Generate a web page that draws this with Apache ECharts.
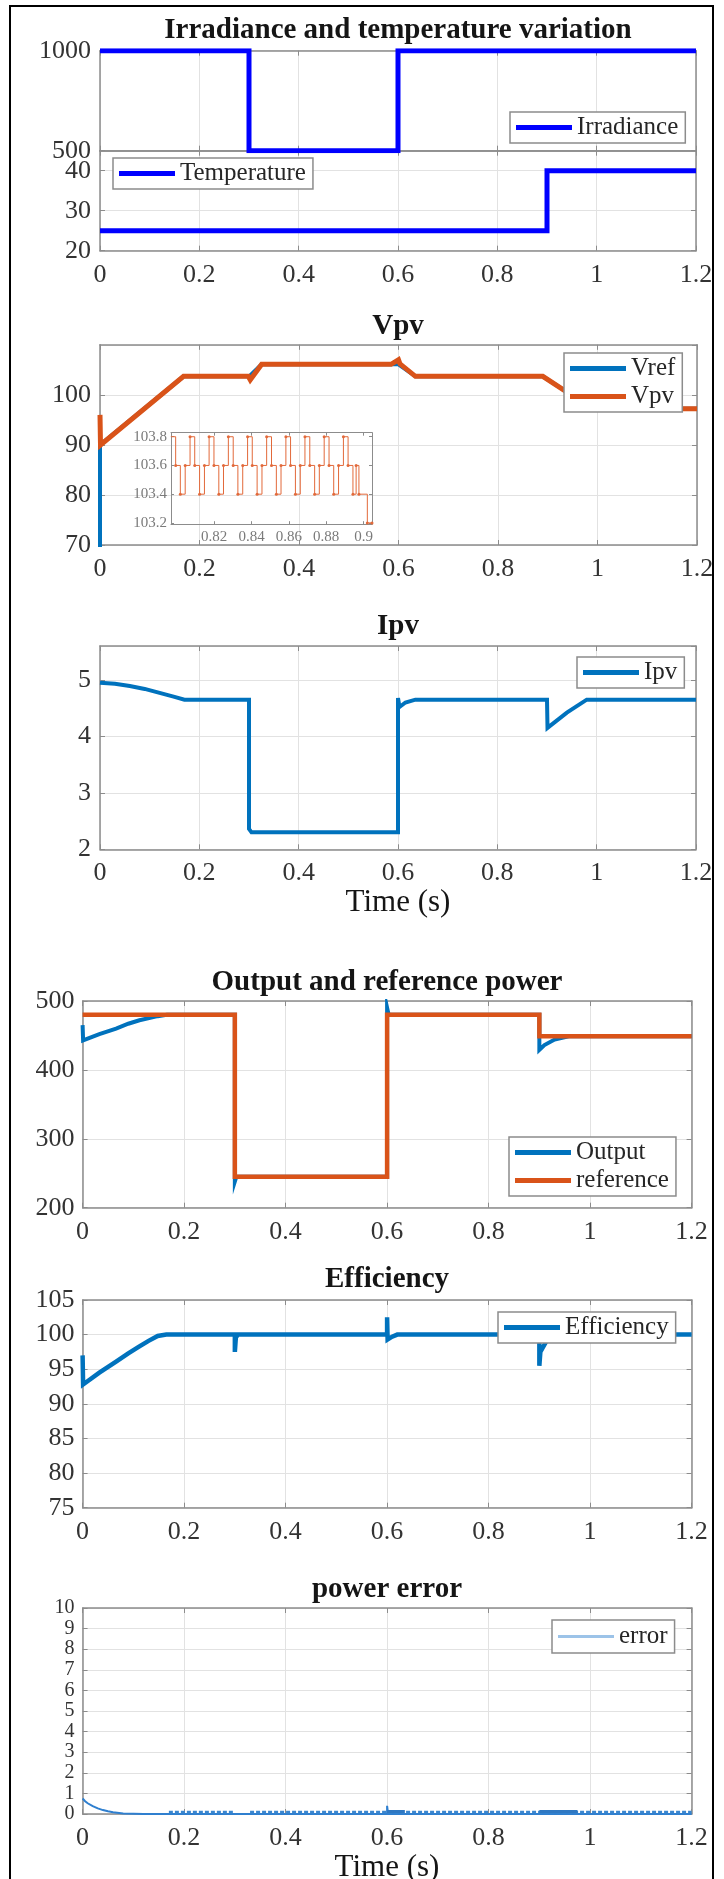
<!DOCTYPE html>
<html><head><meta charset="utf-8">
<script src="https://cdn.jsdelivr.net/npm/echarts@6/dist/echarts.min.js"></script>
<style>html,body{margin:0;padding:0;background:#fff}#c{width:724px;height:1879px}</style>
</head><body><div id="c"></div>
<script>
// ---------------- data ----------------
const irradiance = [[0,1000],[0.3,1000],[0.3,500],[0.6,500],[0.6,1000],[1.2,1000]];
const temperature = [[0,25],[0.9,25],[0.9,40],[1.2,40]];

const vref = [[0,0],[0,90],[0.168,103.7],[0.3,103.7],[0.325,106.1],[0.6,106.1],[0.634,103.7],[0.89,103.7],[0.99,97.2],[1.2,97.2]];
const vpv = [[0,96],[0.001,90],[0.168,103.7],[0.298,103.7],[0.302,103.0],[0.325,106.1],[0.585,106.1],[0.6,107.0],[0.603,106.2],[0.634,103.7],[0.89,103.7],[0.99,97.2],[1.2,97.2]];

const insetTime = [0.7968,0.7994,0.8019,0.8045, 0.8071,0.8096,0.8122,0.8148, 0.8173,0.8199,0.8225,0.8250,
  0.8276,0.8302,0.8327,0.8353, 0.8379,0.8404,0.8430,0.8456, 0.8481,0.8507,0.8533,0.8558,
  0.8584,0.8609,0.8635,0.8661, 0.8686,0.8712,0.8738,0.8763, 0.8789,0.8815,0.8840,0.8866,
  0.8892,0.8917,0.8943,0.8960,0.8975,0.9020,0.9045];
const insetVpv = [103.8,103.6,103.4,103.6, 103.8,103.6,103.4,103.6, 103.8,103.6,103.4,103.6,
  103.8,103.6,103.4,103.6, 103.8,103.6,103.4,103.6, 103.8,103.6,103.4,103.6,
  103.8,103.6,103.4,103.6, 103.8,103.6,103.4,103.6, 103.8,103.6,103.4,103.6,
  103.8,103.6,103.4,103.6,103.4,103.2,103.2];
const insetXLabels = [0.82,0.84,0.86,0.88,0.9];
const insetYLabels = [103.2,103.4,103.6,103.8];

const ipv = [[0,4.95],[0.03,4.93],[0.06,4.89],[0.09,4.84],[0.12,4.77],[0.15,4.70],[0.17,4.65],[0.3,4.65],[0.3,2.36],[0.305,2.30],[0.6,2.30],[0.6,4.68],[0.603,4.52],[0.615,4.60],[0.635,4.65],[0.9,4.65],[0.901,4.15],[0.94,4.42],[0.98,4.65],[1.2,4.65]];

const powerOutput = [[0,465],[0.001,443],[0.033,452],[0.066,460],[0.09,467],[0.112,472],[0.148,478],[0.166,480],[0.3,480],[0.3,238],[0.303,245],[0.6,245],[0.6,490],[0.603,480],[0.9,480],[0.9,429],[0.91,436],[0.93,444],[0.96,449],[1.2,449]];
const powerReference = [[0,480],[0.3,480],[0.3,245],[0.6,245],[0.6,480],[0.9,480],[0.9,449],[1.2,449]];

const efficiency = [[0,97.0],[0.001,92.8],[0.033,94.5],[0.066,96.1],[0.09,97.3],[0.112,98.3],[0.13,99.1],[0.148,99.8],[0.165,100],[0.3,100],[0.3,97.5],[0.302,99.6],[0.306,100],[0.6,100],[0.6,102.5],[0.601,99.3],[0.61,99.7],[0.62,100],[0.9,100],[0.9,95.5],[0.902,97.5],[0.915,99.2],[0.93,100],[1.2,100]];

const powerError = [[0,0.75],[0.005,0.62],[0.01,0.52],[0.02,0.38],[0.03,0.27],[0.04,0.19],[0.05,0.13],[0.06,0.08],[0.08,0.03],[0.1,0.01],[0.12,0],[0.6,0],[0.6,0.4],[0.602,0],[1.2,0]];
const errorRipple = [[0.17,0.1],[0.3,0.1],[0.315,null],[0.33,0.1],[1.2,0.1]];
const errorRippleDense = [[0.6,0.12],[0.635,0.12],[0.7,null],[0.9,0.12],[0.975,0.12]];

// ---------------- styling ----------------
const FONT = 'Liberation Serif';
const AX = '#8c8c8c', GRIDC = '#e2e2e2', TXT = '#333333';
const BLUE = '#0072BD', ORANGE = '#D95319', PURE = '#0000FF';

const grids = [
  {left:100, top:50.7, width:596, height:100},     // 0 irradiance
  {left:100, top:150.7, width:596, height:100},    // 1 temperature
  {left:100, top:344.8, width:597, height:200.2},  // 2 Vpv
  {left:171, top:432.7, width:201, height:91.5, show:true, backgroundColor:'#fff', borderWidth:0}, // 3 inset
  {left:100, top:646, width:596, height:203.3},    // 4 Ipv
  {left:82.6, top:1001, width:609, height:206.7},  // 5 output power
  {left:82.6, top:1300, width:609, height:207.7},  // 6 efficiency
  {left:82.6, top:1608, width:609, height:206}     // 7 power error
];

const xAxes = [], yAxes = [];
const fmt = v => String(+v.toFixed(2));
function addAxes(gi, xo, yo) {
  const lw = xo.inset ? 1 : 1.5;
  const lab = (o, fs, m) => Object.assign({show:true, fontFamily:FONT, fontSize:fs, color:o.inset ? '#7a7a7a' : TXT, margin:m, formatter:fmt}, o.label || {});
  xAxes.push({type:'value', gridIndex:gi, position:'bottom', min:xo.min, max:xo.max, interval:xo.interval,
    axisLine:{show:true, onZero:false, lineStyle:{color:AX, width:lw}},
    axisTick:Object.assign({show:true, inside:true, length:xo.inset?3:5, lineStyle:{color:AX}}, xo.tick || {}),
    axisLabel:Object.assign(lab(xo, xo.fs || 26, xo.margin || 11), {show:xo.labels !== false}),
    splitLine:{show:!xo.inset, lineStyle:{color:GRIDC, width:1}}});
  xAxes.push({type:'value', gridIndex:gi, position:'top', min:xo.min, max:xo.max, interval:xo.interval,
    axisLine:{show:true, onZero:false, lineStyle:{color:AX, width:lw}},
    axisTick:Object.assign({show:true, inside:true, length:xo.inset?3:5, lineStyle:{color:AX}}, xo.tick || {}),
    axisLabel:{show:false}, splitLine:{show:false}});
  const yl = Object.assign(lab(yo, yo.fs || 26, yo.margin || 9), {showMaxLabel: yo.showMax !== false, showMinLabel:true});
  if (yo.lh) { yl.lineHeight = yo.lh; }
  yAxes.push({type:'value', gridIndex:gi, position:'left', min:yo.min, max:yo.max, interval:yo.interval,
    axisLine:{show:true, onZero:false, lineStyle:{color:AX, width:lw}},
    axisTick:Object.assign({show:true, inside:true, length:yo.inset?3:5, lineStyle:{color:AX}}, yo.tick || {}),
    axisLabel:yl,
    splitLine:{show:!yo.inset && yo.split !== false, lineStyle:{color:GRIDC, width:1}}});
  yAxes.push({type:'value', gridIndex:gi, position:'right', min:yo.min, max:yo.max, interval:yo.interval,
    axisLine:{show:true, onZero:false, lineStyle:{color:AX, width:lw}},
    axisTick:Object.assign({show:true, inside:true, length:yo.inset?3:5, lineStyle:{color:AX}}, yo.tick || {}),
    axisLabel:{show:false}, splitLine:{show:false}});
}
const X = {min:0, max:1.2, interval:0.2};
addAxes(0, Object.assign({labels:false}, X), {min:500, max:1000, interval:500});
addAxes(1, X, {min:20, max:45, interval:10, showMax:false});
addAxes(2, X, {min:70, max:110, interval:10, showMax:false});
addAxes(3, {inset:true, min:0.7969, max:0.9045, fs:15, margin:5,
            label:{customValues:insetXLabels}, tick:{customValues:insetXLabels}},
           {inset:true, min:103.191, max:103.828, fs:15, margin:4,
            label:{customValues:insetYLabels, formatter:v=>v.toFixed(1)}, tick:{customValues:insetYLabels}});
addAxes(4, X, {min:2, max:5.6, interval:1, showMax:false});
addAxes(5, X, {min:200, max:500, interval:100, margin:8});
addAxes(6, X, {min:75, max:105, interval:5, margin:8});
addAxes(7, X, {min:0, max:10, interval:1, margin:8, fs:20, lh:14});

function line(name, gi, data, color, width, extra) {
  return Object.assign({name, type:'line', xAxisIndex:2*gi, yAxisIndex:2*gi, data,
    showSymbol:false, symbol:'none', animation:false, clip:true,
    lineStyle:{color, width, join:'miter'}, itemStyle:{color}, z:3}, extra || {});
}

const series = [
  line('Irradiance', 0, irradiance, PURE, 5),
  line('Temperature', 1, temperature, PURE, 5),
  line('Vref', 2, vref, BLUE, 4),
  line('Vpv', 2, vpv, ORANGE, 5),
  line('inset', 3, insetTime.map((t,i)=>[t, insetVpv[i]]), '#E2693A', 1,
       {step:'end', showSymbol:true, symbol:'circle', symbolSize:3, z:5}),
  line('Ipv', 4, ipv, BLUE, 4),
  line('Output', 5, powerOutput, BLUE, 4),
  line('reference', 5, powerReference, ORANGE, 4.5),
  line('Efficiency', 6, efficiency, BLUE, 4.5),
  line('error', 7, powerError, '#2f7fcf', 2),
  line('ripple', 7, errorRipple, '#3a86cf', 2.5, {lineStyle:{color:'#3a86cf', width:2.5, type:[4,2]}}),
  line('rippleDense', 7, errorRippleDense, '#2f78c2', 3)
];

function legend(names, left, top, extra) {
  return Object.assign({data:names, left, top, orient:'vertical', selectedMode:false,
    icon:'rect', itemWidth:56, itemHeight:5, itemGap:3, padding:[3,7,3,6],
    borderColor:AX, borderWidth:1.5, backgroundColor:'#fff', borderRadius:0,
    textStyle:{fontFamily:FONT, fontSize:25, color:'#262626'}, z:10}, extra || {});
}
const legends = [
  legend(['Irradiance'], 510, 112),
  legend(['Temperature'], 113, 158),
  legend(['Vref','Vpv'], 564, 353),
  legend(['Ipv'], 577, 657),
  legend(['Output','reference'], 509, 1137),
  legend(['Efficiency'], 498, 1312),
  legend([{name:'error', itemStyle:{color:'#9cc3e8'}}], 552, 1620, {itemHeight:3, padding:[4,7,4,6]})
];

function title(text, cx, cy, size, bold) {
  return {text, left:cx, top:cy - size/2, textAlign:'center', padding:0,
    textStyle:{fontFamily:FONT, fontSize:size, fontWeight:bold ? 'bold' : 'normal', color:'#151515'}};
}
const titles = [
  title('Irradiance and temperature variation', 398, 31, 29, true),
  title('Vpv', 398, 327, 29, true),
  title('Ipv', 398, 627, 29, true),
  title('Time (s)', 398, 903, 31, false),
  title('Output and reference power', 387, 983, 29, true),
  title('Efficiency', 387, 1280, 29, true),
  title('power error', 387, 1590, 29, true),
  title('Time (s)', 387, 1868, 31, false)
];

const chart = echarts.init(document.getElementById('c'), null, {renderer:'canvas'});
chart.setOption({
  backgroundColor:'#ffffff',
  animation:false,
  title:titles,
  grid:grids.map(g => Object.assign({containLabel:false}, g)),
  xAxis:xAxes,
  yAxis:yAxes,
  legend:legends,
  series,
  graphic:[{type:'rect', shape:{x:10, y:6, width:703, height:1900}, style:{fill:'none', stroke:'#000', lineWidth:2}, z:100}]
});
</script></body></html>
